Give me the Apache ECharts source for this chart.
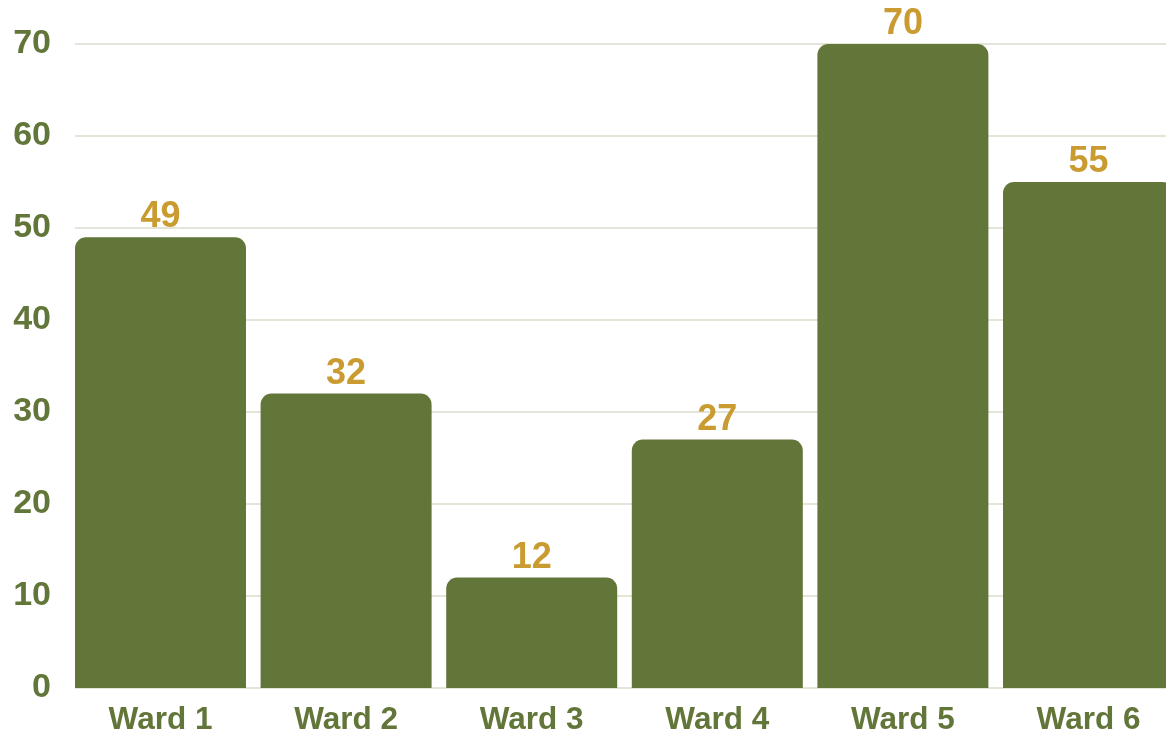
<!DOCTYPE html>
<html>
<head>
<meta charset="utf-8">
<script src="https://cdn.jsdelivr.net/npm/echarts@6/dist/echarts.min.js"></script>
<style>
  html, body { margin: 0; padding: 0; background: #fff; }
  #chart { width: 1166px; height: 734px; }
</style>
</head>
<body>
<div id="chart"></div>
<script>
var wards = ["Ward 1", "Ward 2", "Ward 3", "Ward 4", "Ward 5", "Ward 6"];
var counts = [49, 32, 12, 27, 70, 55];
var yTicks = [0, 10, 20, 30, 40, 50, 60, 70];

var green = "#62763a";
var gold = "#c99b30";

var chart = echarts.init(document.getElementById("chart"));

var option = {
  animation: false,
  grid: [
    // grid lines + y labels
    { left: 75, right: 0, top: 44, bottom: 46 },
    // bars + ward labels (band runs past the right edge)
    {
      left: 67.7,
      width: 1113.6,
      top: 44,
      bottom: 46,
      outerBoundsMode: "none",
      containLabel: false,
    },
  ],
  xAxis: [
    {
      gridIndex: 0,
      type: "category",
      data: wards,
      show: false,
    },
    {
      gridIndex: 1,
      type: "category",
      data: wards,
      axisLine: { show: false },
      axisTick: { show: false },
      axisLabel: {
        color: green,
        fontFamily: "Liberation Sans, Arial, sans-serif",
        fontWeight: "bold",
        fontSize: 31.5,
        margin: 16,
      },
    },
  ],
  yAxis: [
    {
      gridIndex: 0,
      type: "value",
      min: yTicks[0],
      max: yTicks[yTicks.length - 1],
      interval: 10,
      axisLine: { show: false },
      axisTick: { show: false },
      axisLabel: {
        color: green,
        fontFamily: "Liberation Sans, Arial, sans-serif",
        fontWeight: "bold",
        fontSize: 34,
        margin: 24,
      },
      splitLine: {
        lineStyle: { color: "#dadccb", width: 1.5 },
      },
    },
    {
      gridIndex: 1,
      type: "value",
      min: yTicks[0],
      max: yTicks[yTicks.length - 1],
      show: false,
      splitLine: { show: false },
    },
  ],
  series: [
    {
      type: "bar",
      xAxisIndex: 1,
      yAxisIndex: 1,
      data: counts,
      barWidth: 171,
      itemStyle: {
        color: green,
        borderRadius: [11, 11, 0, 0],
      },
      label: {
        show: true,
        position: "top",
        distance: 2,
        color: gold,
        fontFamily: "Liberation Sans, Arial, sans-serif",
        fontWeight: "bold",
        fontSize: 36,
      },
    },
  ],
};

chart.setOption(option);
</script>
</body>
</html>
